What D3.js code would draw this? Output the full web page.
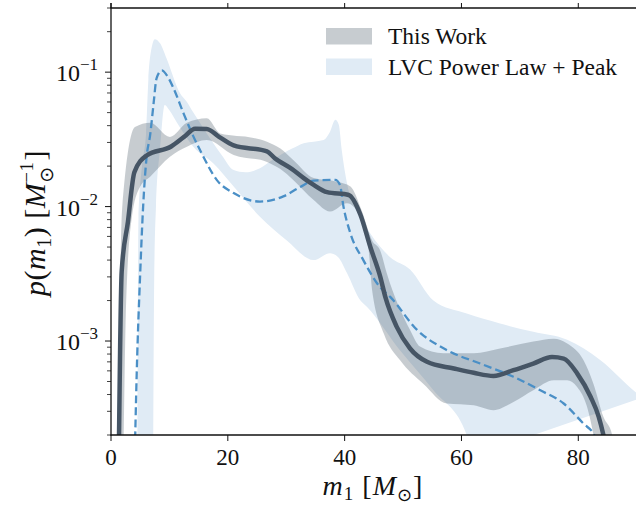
<!DOCTYPE html>
<html>
  <head>
    <meta charset="utf-8">
    <title>Primary mass distribution</title>
    <script src="https://d3js.org/d3.v7.min.js"></script>
  </head>
  <style>
    body { margin: 0; background: #fff; }
    text { font-family: "Liberation Serif", "DejaVu Serif", serif; fill: #111; }
    .it { font-style: italic; }
  </style>
  <body>
    <script type="text/javascript">
        var width = 636;
        var height = 508;

        // [m1, p(m1)]
        const thisWorkMedian = [[1.3,1e-4],[1.83,3.3e-3],[2.9,0.0077],[4.0,0.018],[6.1,0.024],[10.3,0.028],[12.5,0.033],[14.4,0.038],
          [16.4,0.0378],[18.5,0.033],[21.0,0.0285],[26.7,0.0257],[28.0,0.023],[31.0,0.019],[33.0,0.0163],[34.7,0.0145],
          [37.0,0.0128],[40.7,0.0122],[42.7,0.0087],[44.4,0.005],[46.1,0.003],[47.0,0.0021],[48.9,0.00128],[51.2,8.8e-4],
          [54.1,7.0e-4],[58.7,6.25e-4],[62.1,5.8e-4],[65.5,5.5e-4],[68.9,6.07e-4],[72.3,6.8e-4],[75.5,7.6e-4],[77.5,7.4e-4],
          [79.8,5.75e-4],[82.1,3.85e-4],[83.5,2.73e-4],[84.3,2.0e-4],[85.0,1.4e-4]];
        const thisWorkUpper = [[1.1,1e-4],[1.9,0.0095],[4.1,0.039],[6.7,0.042],[10.1,0.033],[13.0,0.042],[16.4,0.0454],
          [18.7,0.035],[24.4,0.0324],[26.7,0.0304],[29.0,0.027],[31.2,0.0222],[34.7,0.0163],[38.7,0.0153],[41.0,0.0141],
          [42.9,0.0094],[44.7,0.0056],[46.1,0.0047],[47.2,0.0032],[51.2,0.00121],[52.9,9.1e-4],[56.9,8.1e-4],[62.1,8.1e-4],
          [66.6,8.8e-4],[72.3,9.9e-4],[75.8,1.04e-3],[78.1,9.6e-4],[80.9,7.2e-4],[82.6,4.8e-4],[84.3,2.73e-4],[85.8,2e-4],[86.5,1.4e-4]];
        const thisWorkLower = [[2.1,1.2e-4],[2.6,2.0e-3],[3.6,0.0085],[5.0,0.0141],[6.7,0.0167],[10.1,0.0235],[13.0,0.0279],
          [16.4,0.0313],[21.0,0.0242],[26.7,0.0215],[29.0,0.019],[31.2,0.0158],[34.7,0.0112],[37.5,0.0092],[40.4,0.0106],
          [42.7,0.0084],[44.1,0.0048],[44.7,0.0024],[46.7,1.14e-3],[49.5,7.2e-4],[53.5,4.8e-4],[57.5,3.43e-4],[62.1,3.33e-4],
          [65.5,3.06e-4],[68.9,3.52e-4],[72.3,4.3e-4],[75.8,5.1e-4],[78.1,5.1e-4],[79.8,4.56e-4],[81.5,3.24e-4],[82.6,2e-4],[83.2,1.4e-4]];
        const lvcMedian = [[4.0,1e-4],[4.4,5.7e-4],[5.0,3.2e-3],[5.5,0.01],[6.1,0.0235],[6.7,0.034],[7.3,0.059],[7.8,0.09],
          [8.7,0.103],[9.5,0.0955],[10.7,0.076],[12.4,0.0496],[14.0,0.034],[15.5,0.025],[18.1,0.0158],[21.0,0.0126],
          [25.5,0.0109],[29.5,0.0119],[32.4,0.014],[34.7,0.0156],[38.4,0.0158],[39.2,0.0145],[39.8,0.01],[41.0,0.0063],
          [43.2,0.004],[46.1,0.0025],[47.8,0.00213],[52.4,0.00121],[57.5,8.55e-4],[63.2,6.8e-4],[68.9,5.42e-4],[73.5,4.3e-4],
          [77.5,3.43e-4],[80.9,2.43e-4],[82.6,2.05e-4],[84.0,1.5e-4]];
        const lvcUpper = [[4.5,1e-4],[4.7,0.008],[5.3,0.02],[6.0,0.035],[6.4,0.088],[7.0,0.155],[7.5,0.176],[8.4,0.164],
          [9.5,0.127],[11.8,0.07],[13.0,0.06],[14.1,0.05],[16.4,0.035],[19.0,0.024],[21.0,0.0187],[23.0,0.018],[25.5,0.0193],
          [27.5,0.022],[29.5,0.0249],[31.0,0.027],[33.0,0.0296],[36.4,0.0313],[37.5,0.0361],[38.4,0.0442],[39.0,0.0406],
          [39.5,0.0264],[40.4,0.0149],[42.1,0.0094],[44.4,0.0063],[47.8,0.0042],[51.2,0.0034],[55.2,0.002],[60.9,0.0016],
          [66.6,0.00135],[72.3,0.00117],[78.1,0.00102],[83.8,7.2e-4],[90.0,4.1e-4],[91.0,3.8e-4]];
        const lvcLower = [[7.2,1e-4],[7.4,0.003],[7.7,0.01],[8.4,0.027],[9.2,0.057],[10.0,0.052],[11.3,0.042],[14.1,0.0279],
          [17.5,0.021],[21.0,0.0141],[25.5,0.0084],[30.1,0.0056],[34.7,0.004],[37.5,0.0045],[38.9,0.0042],[40.4,0.0032],
          [42.7,0.002],[43.8,0.0018],[49.5,8.5e-4],[55.2,4.3e-4],[60.9,2e-4],[62.0,1.4e-4]];

        const xTicks = [0, 20, 40, 60, 80];
        const yMajor = [1e-3, 1e-2, 1e-1];
        const legendLabels = ['This Work', 'LVC Power Law + Peak'];

        const lineColor = '#465565';
        const lvcColor = '#4a8fc6';
        const lvcFill = '#e0ebf5';

        const svg = d3.select('body').append('svg').attr('width', width).attr('height', height);
        const x = d3.scaleLinear().domain([0, 90]).range([111, 636.7]);
        const y = d3.scaleLog().domain([2e-4, 0.3]).range([435, 8]);

        svg.append('clipPath').attr('id', 'plot').append('rect')
          .attr('x', 111).attr('y', 8).attr('width', width - 111).attr('height', 427);
        const g = svg.append('g').attr('clip-path', 'url(#plot)');

        const line = d3.line().x(d => x(d[0])).y(d => y(d[1])).curve(d3.curveMonotoneX);
        const band = (up, lo) => line(up) + 'L' + line(lo.slice().reverse()).slice(1) + 'Z';

        g.append('path').attr('d', band(lvcUpper, lvcLower)).attr('fill', lvcFill);
        g.append('path').attr('d', band(thisWorkUpper, thisWorkLower)).attr('fill', lineColor).attr('fill-opacity', 0.3);
        g.append('path').attr('d', line(lvcMedian)).attr('fill', 'none').attr('stroke', lvcColor)
          .attr('stroke-width', 2.3).attr('stroke-dasharray', '8,4');
        g.append('path').attr('d', line(thisWorkMedian)).attr('fill', 'none').attr('stroke', lineColor)
          .attr('stroke-width', 4.5).attr('stroke-linejoin', 'round');

        // axes
        const ax = svg.append('g').attr('stroke', '#111').attr('fill', 'none');
        ax.append('line').attr('x1', 111).attr('x2', 111).attr('y1', 3).attr('y2', 435.5).attr('stroke-width', 1.3);
        ax.append('line').attr('x1', 110.5).attr('x2', width).attr('y1', 435).attr('y2', 435).attr('stroke-width', 1.3);
        ax.append('line').attr('x1', 110.5).attr('x2', width).attr('y1', 8).attr('y2', 8).attr('stroke-width', 1.3);

        xTicks.forEach(t => {
          ax.append('line').attr('x1', x(t)).attr('x2', x(t)).attr('y1', 435).attr('y2', 441).attr('stroke-width', 1);
          ax.append('line').attr('x1', x(t)).attr('x2', x(t)).attr('y1', 8).attr('y2', 3).attr('stroke-width', 1);
          svg.append('text').attr('x', x(t)).attr('y', 465).attr('text-anchor', 'middle')
            .attr('font-size', 23).text(t);
        });

        y.ticks().forEach(t => {
          const major = yMajor.some(m => Math.abs(m - t) / m < 1e-6);
          ax.append('line').attr('x1', 111).attr('x2', major ? 105 : 107).attr('y1', y(t)).attr('y2', y(t))
            .attr('stroke-width', major ? 1 : 0.8);
        });

        yMajor.forEach(t => {
          const lab = svg.append('text').attr('x', 98).attr('y', y(t) + 9).attr('text-anchor', 'end').attr('font-size', 24);
          lab.append('tspan').text('10');
          lab.append('tspan').attr('font-size', 17).attr('dy', -11).text('\u2212' + Math.round(-Math.log10(t)));
        });

        // x label
        const xl = svg.append('text').attr('x', 373).attr('y', 495).attr('text-anchor', 'middle')
          .attr('font-size', 28).attr('letter-spacing', 1);
        xl.append('tspan').attr('class', 'it').text('m');
        xl.append('tspan').attr('font-size', 19).attr('dy', 5).text('1');
        xl.append('tspan').attr('dy', -5).text(' [');
        xl.append('tspan').attr('class', 'it').text('M');
        xl.append('tspan').attr('font-size', 18).attr('dy', 6).attr('font-family', 'DejaVu Sans').text('\u2299');
        xl.append('tspan').attr('dy', -6).text(']');

        // y label
        const yl = svg.append('text').attr('transform', 'translate(45,223) rotate(-90)')
          .attr('text-anchor', 'middle').attr('font-size', 30).attr('letter-spacing', 0.5);
        yl.append('tspan').attr('class', 'it').text('p');
        yl.append('tspan').text('(');
        yl.append('tspan').attr('class', 'it').text('m');
        yl.append('tspan').attr('font-size', 20).attr('dy', 6).text('1');
        yl.append('tspan').attr('dy', -6).text(') [');
        yl.append('tspan').attr('class', 'it').text('M');
        const sup = yl.append('tspan').attr('font-size', 19).attr('dy', -12).text('\u22121');
        const sub = yl.append('tspan').attr('font-size', 19).attr('dy', 20).attr('font-family', 'DejaVu Sans').text('\u2299');
        const close = yl.append('tspan').attr('dy', -8).text(']');
        const ws = sup.node().getComputedTextLength();
        const wb = sub.node().getComputedTextLength();
        sub.attr('dx', -ws);
        close.attr('dx', Math.max(0, ws - wb) + 1);

        // legend
        const legFills = [[lineColor, 0.3], [lvcFill, 1]];
        legendLabels.forEach((name, i) => {
          const yy = 28 + i * 30.5;
          svg.append('rect').attr('x', 326).attr('y', yy).attr('width', 46).attr('height', 16.5)
            .attr('fill', legFills[i][0]).attr('fill-opacity', legFills[i][1]);
          svg.append('text').attr('x', 388).attr('y', yy + 16).attr('font-size', 23.5).text(name);
        });
      </script>
  </body>
</html>
